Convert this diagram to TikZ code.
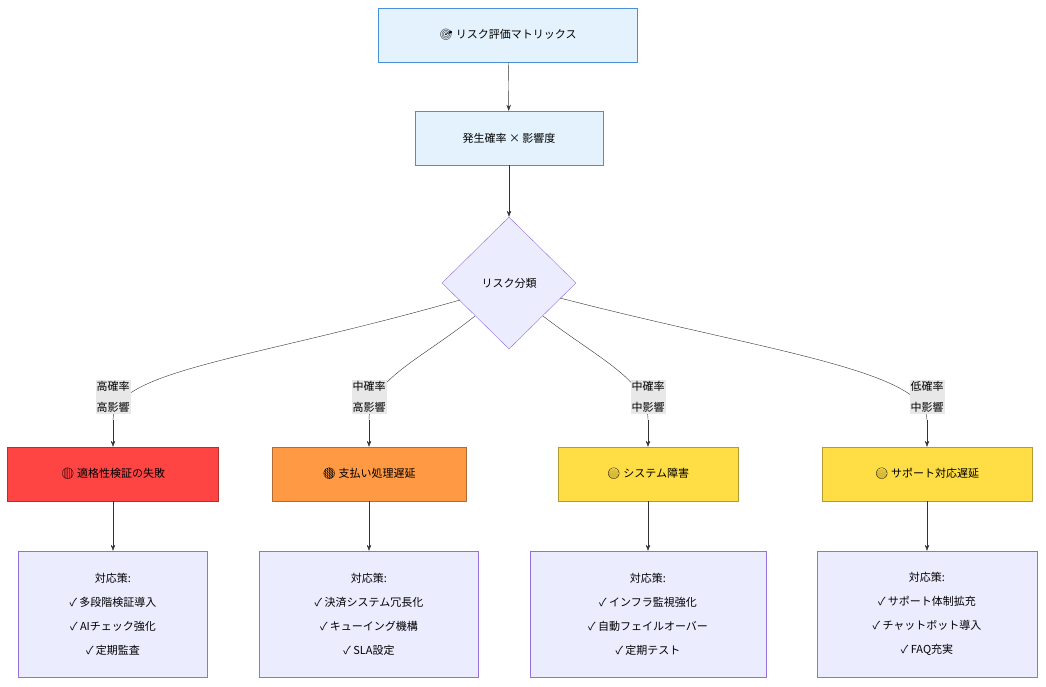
\documentclass[tikz,border=0pt]{standalone}
\usepackage{fontspec}
\setmainfont{Noto Sans CJK JP}
\newfontfamily\emo{Noto Emoji}
\usetikzlibrary{shapes.geometric,arrows.meta}
\definecolor{bluef}{HTML}{E3F2FD}\definecolor{blued}{HTML}{4A90D9}
\definecolor{purf}{HTML}{ECECFF}\definecolor{purd}{HTML}{9370DB}
\definecolor{redf}{HTML}{FF4444}\definecolor{redd}{HTML}{CC0000}
\definecolor{orf}{HTML}{FF9944}\definecolor{ord}{HTML}{CC6600}
\definecolor{yef}{HTML}{FFDD44}\definecolor{yed}{HTML}{CCAA00}
\definecolor{lab}{HTML}{E8E8E8}
\tikzset{
 x=1pt,y=-1pt,
 top/.style={draw=blued,fill=bluef,minimum height=54pt,font=\fontsize{11}{13}\selectfont},
 risk/.style={draw=#1!70!black,fill=#1,minimum height=54pt,font=\fontsize{11}{13}\selectfont},
 act/.style={draw=purd,fill=purf,minimum height=126pt,align=center,font=\fontsize{11}{24}\selectfont},
 lbl/.style={fill=lab,inner sep=1pt,align=center,font=\fontsize{11}{21}\selectfont},
 arr/.style={draw=black!80,-{Stealth[length=6pt]}},
 cv/.style={draw=black!80}
}
\begin{document}
\begin{tikzpicture}
\useasboundingbox (0,0) rectangle (1046,686);
\node[top,minimum width=259pt] (t) at (508,35) {{\emo 🎯} リスク評価マトリックス};
\node[top,minimum width=188pt] (m) at (509,138) {発生確率 × 影響度};
\node[diamond,draw=purd,fill=purf,minimum width=134pt,minimum height=132pt,inner sep=0pt,font=\fontsize{11}{13}\selectfont] (d) at (509,283) {リスク分類};
\draw[arr] (t) -- (m);
\draw[arr] (m) -- (d);
\node[risk=redf,minimum width=211pt] (r1) at (113,474) {{\emo 🔴} 適格性検証の失敗};
\node[risk=orf,minimum width=194pt] (r2) at (369,474) {{\emo 🟠} 支払い処理遅延};
\node[risk=yef,minimum width=180pt] (r3) at (648,474) {{\emo 🟡} システム障害};
\node[risk=yef,minimum width=210pt] (r4) at (927,474) {{\emo 🟡} サポート対応遅延};
\node[act,minimum width=189pt] (a1) at (113,614) {対応策:\\✓ 多段階検証導入\\✓ AIチェック強化\\✓ 定期監査};
\node[act,minimum width=219pt] (a2) at (369,614) {対応策:\\✓ 決済システム冗長化\\✓ キューイング機構\\✓ SLA設定};
\node[act,minimum width=236pt] (a3) at (648,614) {対応策:\\✓ インフラ監視強化\\✓ 自動フェイルオーバー\\✓ 定期テスト};
\node[act,minimum width=220pt] (a4) at (927,614) {対応策:\\✓ サポート体制拡充\\✓ チャットボット導入\\✓ FAQ充実};
\coordinate (k1) at (113,420); \coordinate (k2) at (369,420);
\coordinate (k3) at (648,420); \coordinate (k4) at (927,420);
\draw[cv] (460,300) .. controls (250,360) and (113,370) .. (k1);
\draw[cv] (475,316) .. controls (420,360) and (369,380) .. (k2);
\draw[cv] (543,316) .. controls (600,360) and (648,380) .. (k3);
\draw[cv] (560,298) .. controls (760,350) and (927,370) .. (k4);
\foreach \i in {1,2,3,4}{\draw[arr] (k\i) -- (r\i.north); \draw[arr] (r\i) -- (a\i);}
\node[lbl] at (113,397) {高確率\\高影響};
\node[lbl] at (369,397) {中確率\\高影響};
\node[lbl] at (648,397) {中確率\\中影響};
\node[lbl] at (927,397) {低確率\\中影響};
\end{tikzpicture}
\end{document}
